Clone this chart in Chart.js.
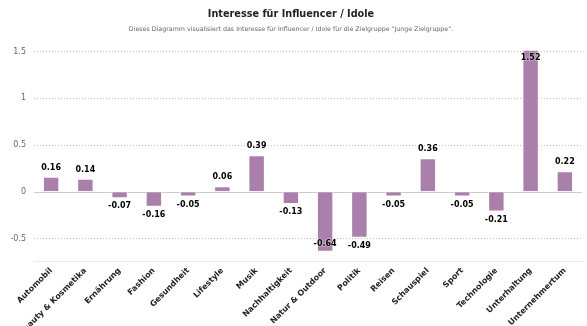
<!DOCTYPE html>
<html>
<head>
<meta charset="utf-8">
<script src="https://cdn.jsdelivr.net/npm/chart.js@4.4.1/dist/chart.umd.min.js"></script>
<style>
    html, body { margin: 0; padding: 0; background: #fff; }
    #wrap { width: 587px; height: 326px; }
</style>
</head>
<body>
<div id="wrap"><canvas id="influencerChart"></canvas></div>
<script>
// ============= Interesse für Influencer / Idole =====================

const kategorien = [
    'Automobil', 'Beauty & Kosmetika', 'Ernährung', 'Fashion', 'Gesundheit',
    'Lifestyle', 'Musik', 'Nachhaltigkeit', 'Natur & Outdoor', 'Politik',
    'Reisen', 'Schauspiel', 'Sport', 'Technologie', 'Unterhaltung', 'Unternehmertum'
]
const werte = [0.16, 0.14, -0.07, -0.16, -0.05, 0.06, 0.39, -0.13, -0.64, -0.49, -0.05, 0.36, -0.05, -0.21, 1.52, 0.22]
const yTicks = [-0.5, 0, 0.5, 1, 1.5]

const schrift = 'DejaVu Sans, Verdana, sans-serif'

// Werte über/unter den Balken, bei Platzmangel innerhalb
const wertLabels = {
    id: 'wertLabels',
    afterDatasetsDraw(chart) {
        const ctx = chart.ctx
        const area = chart.chartArea
        const meta = chart.getDatasetMeta(0)
        ctx.save()
        ctx.font = 'bold 8px ' + schrift
        ctx.textAlign = 'center'
        ctx.textBaseline = 'middle'
        ctx.lineJoin = 'round'
        meta.data.forEach((bar, i) => {
            const v = werte[i]
            let y
            if (v >= 0) {
                y = bar.y - 9
                if (y - 5 < area.top) y = bar.y + 8
            } else {
                y = bar.y + 8
                if (y + 5 > area.bottom) y = bar.y - 8
            }
            ctx.strokeStyle = 'rgba(255,255,255,0.45)'
            ctx.lineWidth = 1.5
            ctx.strokeText(String(v), bar.x, y)
            ctx.fillStyle = '#000'
            ctx.fillText(String(v), bar.x, y)
        })
        ctx.restore()
    }
}

// Nulllinie durchgezogen
const nullLinie = {
    id: 'nullLinie',
    beforeDatasetsDraw(chart) {
        const ctx = chart.ctx
        const y = Math.round(chart.scales.y.getPixelForValue(0)) + 0.5
        ctx.save()
        ctx.strokeStyle = '#cccccc'
        ctx.lineWidth = 1
        ctx.beginPath()
        ctx.moveTo(chart.chartArea.left, y)
        ctx.lineTo(chart.chartArea.right, y)
        ctx.stroke()
        ctx.restore()
    }
}

new Chart(document.getElementById('influencerChart'), {
    type: 'bar',
    data: {
        labels: kategorien,
        datasets: [{
            label: 'Interesse',
            data: werte,
            backgroundColor: '#ab7fab',
            borderColor: '#ffffff',
            borderWidth: 1,
            barPercentage: 0.48,
            categoryPercentage: 1
        }]
    },
    options: {
        responsive: true,
        maintainAspectRatio: false,
        animation: false,
        layout: { padding: { left: 0, right: 5, top: 0, bottom: 0 } },
        plugins: {
            legend: { display: false },
            tooltip: { enabled: false },
            title: {
                display: true,
                text: 'Interesse für Influencer / Idole',
                color: '#222222',
                font: { family: schrift, size: 9.7, weight: 'bold' },
                padding: { top: 9, bottom: 5 }
            },
            subtitle: {
                display: true,
                text: 'Dieses Diagramm visualisiert das Interesse für Influencer / Idole für die Zielgruppe "Junge Zielgruppe".',
                color: '#666666',
                font: { family: schrift, size: 6.3 },
                padding: { top: 0, bottom: 16.5 }
            }
        },
        scales: {
            x: {
                grid: { display: false, drawTicks: false },
                border: { display: true, color: '#e6e9f2', width: 1 },
                ticks: {
                    autoSkip: false,
                    maxRotation: 45,
                    minRotation: 45,
                    padding: 5,
                    color: '#222222',
                    font: { family: schrift, size: 8, weight: 'bold' }
                },
                afterFit(scale) { scale.height = 65 }
            },
            y: {
                min: -0.74,
                max: 1.52,
                grid: {
                    drawTicks: false,
                    color: ctx => ctx.tick && ctx.tick.value === 0 ? 'rgba(0,0,0,0)' : '#bdbdbd'
                },
                border: { display: false, dash: [1, 2] },
                afterBuildTicks(scale) {
                    scale.ticks = yTicks.map(v => ({ value: v }))
                },
                ticks: {
                    padding: 8,
                    color: '#666666',
                    font: { family: schrift, size: 8 },
                    callback: v => String(v)
                },
                afterFit(scale) { scale.width = 34 }
            }
        }
    },
    plugins: [nullLinie, wertLabels]
})
</script>
</body>
</html>
